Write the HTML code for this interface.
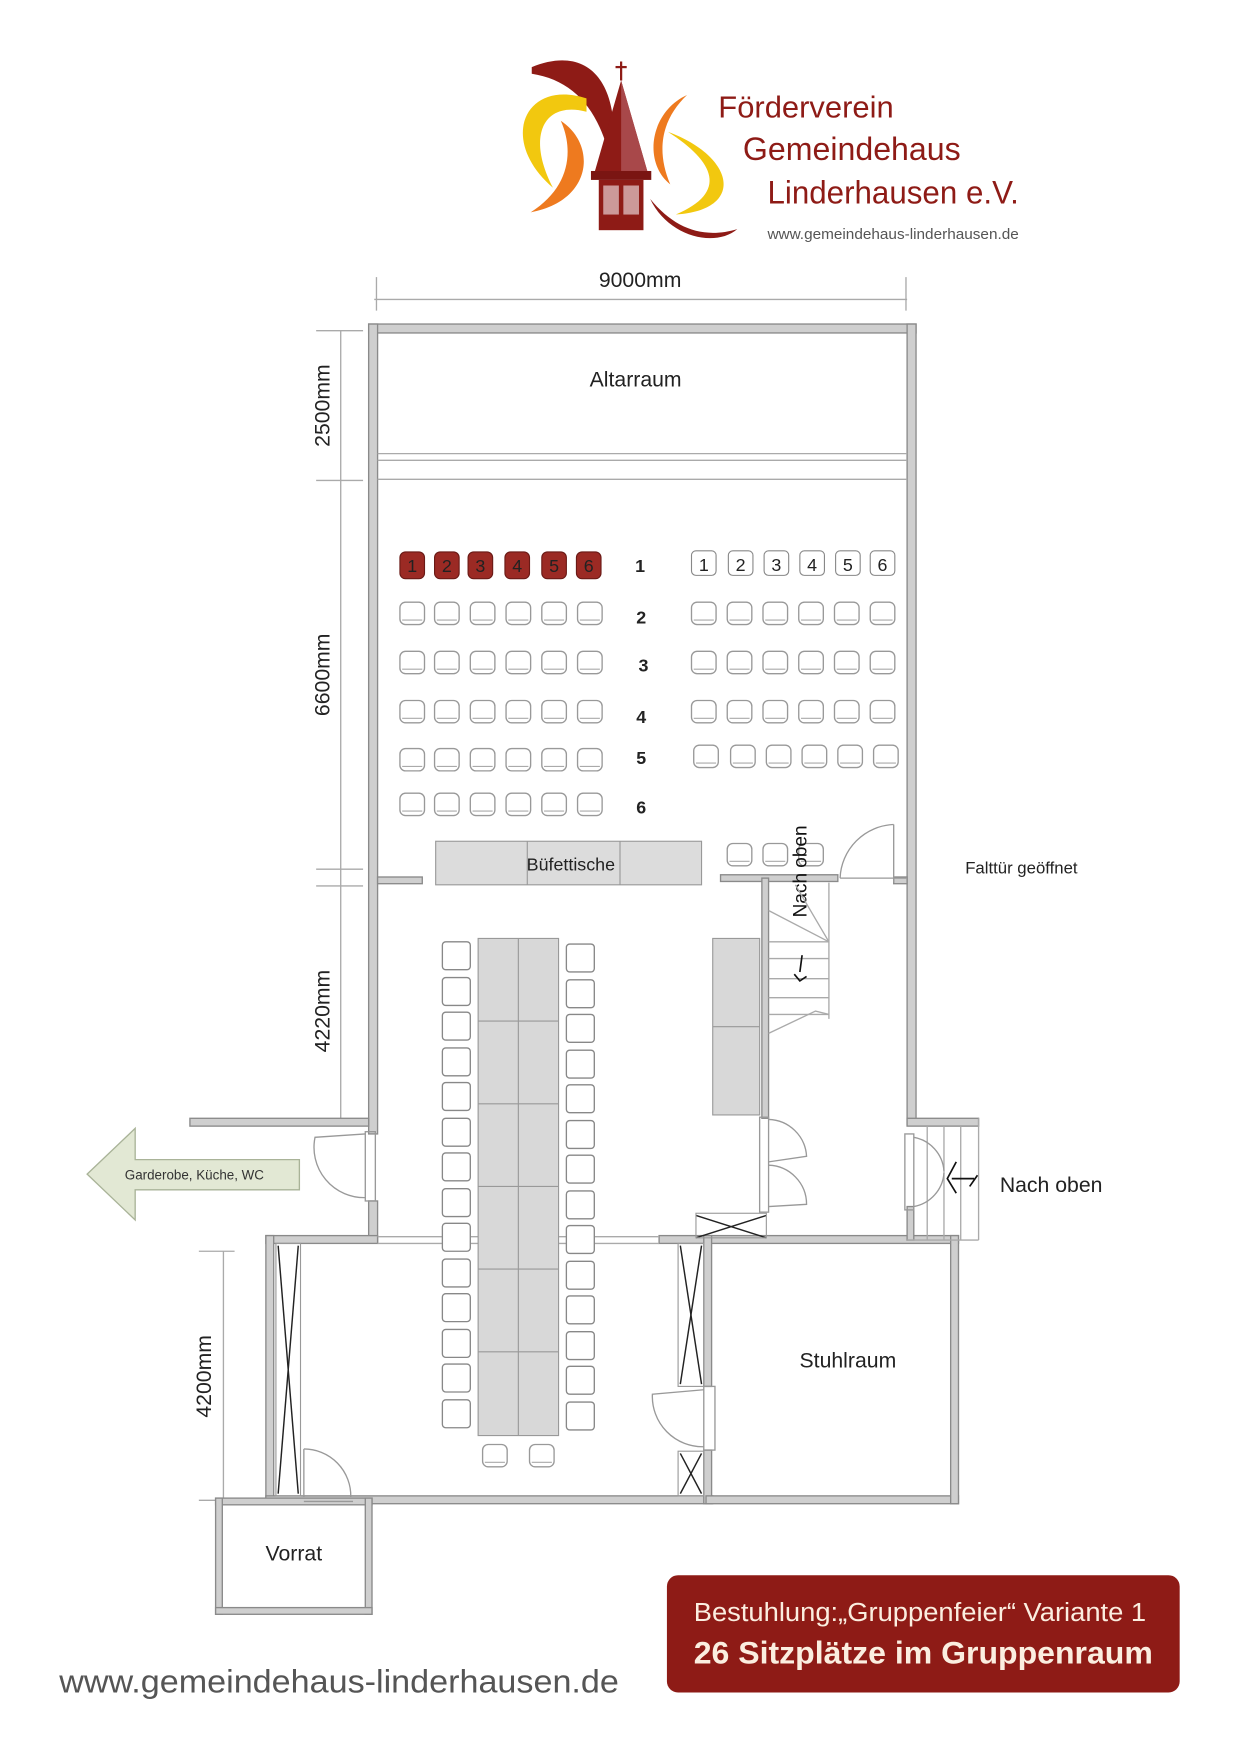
<!DOCTYPE html>
<html><head><meta charset="utf-8"><style>
html,body{margin:0;padding:0;background:#fff;}
svg{display:block;}
text{font-family:"Liberation Sans",sans-serif;}
</style></head><body>
<svg width="1240" height="1754" viewBox="0 0 1110 1570" xmlns="http://www.w3.org/2000/svg">
<defs>
<g id="ch"><rect x="0" y="0" width="22" height="20" rx="5" fill="#fff" stroke="#999" stroke-width="1.2"/><line x1="2" y1="16" x2="20" y2="16" stroke="#aaa" stroke-width="1"/></g>
<g id="lc"><rect x="0" y="0" width="25" height="25" rx="3" fill="#fff" stroke="#888" stroke-width="1.2"/></g>
</defs>

<!-- LOGO -->
<path d="M476 60 C525 40 558 70 548 150 C538 100 515 72 476 66Z" fill="#8e1b16"/>
<path d="M525 88 C470 70 445 125 495 168 C470 120 488 90 525 100Z" fill="#f2c80f"/>
<path d="M502 108 C535 130 530 180 475 190 C510 168 514 135 502 108Z" fill="#ee7a1f"/>
<path d="M615 85 C582 100 575 145 600 165 C586 132 594 105 615 85Z" fill="#ee7a1f"/>
<path d="M598 118 C658 140 668 188 605 192 C652 172 640 145 598 118Z" fill="#f2c80f"/>
<path d="M582 178 C598 212 640 222 660 205 C630 214 604 205 582 178Z" fill="#8e1b16"/>
<line x1="556" y1="55" x2="556" y2="72" stroke="#8e1b16" stroke-width="2"/>
<line x1="551" y1="60" x2="561" y2="60" stroke="#8e1b16" stroke-width="2"/>
<polygon points="556,72 532,155 580,155" fill="#8e1b16"/>
<polygon points="556,72 556,155 580,155" fill="#a8484a"/>
<rect x="529" y="153" width="54" height="8" fill="#7a1512"/>
<rect x="536" y="161" width="40" height="45" fill="#8e1b16"/>
<rect x="540" y="166" width="14" height="26" fill="#c99" />
<rect x="558" y="166" width="14" height="26" fill="#c99" />
<text x="643" y="105" font-size="27" fill="#8e1b16" textLength="157" lengthAdjust="spacingAndGlyphs">Förderverein</text>
<text x="665" y="143" font-size="29" fill="#8e1b16" textLength="195" lengthAdjust="spacingAndGlyphs">Gemeindehaus</text>
<text x="687" y="182" font-size="29" fill="#8e1b16" textLength="225" lengthAdjust="spacingAndGlyphs">Linderhausen e.V.</text>
<text x="687" y="214" font-size="13" fill="#555" textLength="225" lengthAdjust="spacingAndGlyphs">www.gemeindehaus-linderhausen.de</text>

<!-- dimensions -->
<g stroke="#aaa" stroke-width="1.2" fill="none">
<line x1="335" y1="268" x2="812" y2="268"/>
<line x1="337" y1="248" x2="337" y2="278"/><line x1="811" y1="248" x2="811" y2="278"/>
<line x1="305" y1="296" x2="305" y2="1003"/>
<line x1="283" y1="296" x2="325" y2="296"/><line x1="283" y1="430" x2="325" y2="430"/>
<line x1="283" y1="778" x2="325" y2="778"/><line x1="283" y1="793" x2="325" y2="793"/>
<line x1="200" y1="1120" x2="200" y2="1345"/>
<line x1="178" y1="1120" x2="210" y2="1120"/><line x1="178" y1="1343" x2="210" y2="1343"/>
</g>
<text x="573" y="257" font-size="19" text-anchor="middle" fill="#222">9000mm</text>
<text transform="translate(295,363) rotate(-90)" font-size="19" text-anchor="middle" fill="#222">2500mm</text>
<text transform="translate(295,604) rotate(-90)" font-size="19" text-anchor="middle" fill="#222">6600mm</text>
<text transform="translate(295,905) rotate(-90)" font-size="19" text-anchor="middle" fill="#222">4220mm</text>
<text transform="translate(189,1232) rotate(-90)" font-size="19" text-anchor="middle" fill="#222">4200mm</text>

<!-- WALLS -->
<g fill="#cfcfcf" stroke="#8a8a8a" stroke-width="1.2">
<rect x="330" y="290" width="490" height="8"/>
<rect x="330" y="290" width="8" height="725"/>
<rect x="330" y="1075" width="8" height="37"/>
<rect x="812" y="290" width="8" height="717"/>
<rect x="338" y="785" width="40" height="6"/>
<rect x="645" y="783" width="105" height="6"/>
<rect x="800" y="785" width="12" height="6"/>
<rect x="682" y="786" width="6" height="215"/>
<rect x="170" y="1001" width="160" height="7"/>
<rect x="812" y="1001" width="64" height="7"/>
<rect x="238" y="1106" width="100" height="7"/>
<rect x="590" y="1106" width="268" height="7"/>
<rect x="238" y="1106" width="7" height="240"/>
<rect x="238" y="1339" width="400" height="7"/>
<rect x="630" y="1106" width="7" height="135"/>
<rect x="630" y="1298" width="7" height="48"/>
<rect x="632" y="1339" width="226" height="7"/>
<rect x="851" y="1106" width="7" height="240"/>
<rect x="193" y="1341" width="140" height="6"/>
<rect x="193" y="1341" width="6" height="104"/>
<rect x="327" y="1341" width="6" height="104"/>
<rect x="193" y="1439" width="140" height="6"/>
<rect x="812" y="1080" width="6" height="30"/>
</g>
<g stroke="#aaa" stroke-width="1.2" fill="none">
<line x1="338" y1="406" x2="812" y2="406"/><line x1="338" y1="412" x2="812" y2="412"/><line x1="338" y1="429" x2="812" y2="429"/>
<line x1="338" y1="1107" x2="590" y2="1107"/><line x1="338" y1="1113" x2="590" y2="1113"/>
<line x1="876" y1="1001" x2="876" y2="1110"/><line x1="812" y1="1110" x2="876" y2="1110"/>
<line x1="830" y1="1008" x2="830" y2="1110"/><line x1="845" y1="1008" x2="845" y2="1110"/><line x1="860" y1="1008" x2="860" y2="1110"/>
</g>
<text x="569" y="346" font-size="19" text-anchor="middle" fill="#222">Altarraum</text>

<g font-size="16" text-anchor="middle" fill="#222">
<g fill="#9b2a24" stroke="#6a1a16"><rect x="358" y="494" width="22" height="24" rx="5"/><rect x="389" y="494" width="22" height="24" rx="5"/><rect x="419" y="494" width="22" height="24" rx="5"/><rect x="452" y="494" width="22" height="24" rx="5"/><rect x="485" y="494" width="22" height="24" rx="5"/><rect x="516" y="494" width="22" height="24" rx="5"/></g>
<text x="369" y="512">1</text><text x="400" y="512">2</text><text x="430" y="512">3</text><text x="463" y="512">4</text><text x="496" y="512">5</text><text x="527" y="512">6</text>
<g fill="#fff" stroke="#888"><rect x="619" y="493" width="22" height="22" rx="4"/><rect x="652" y="493" width="22" height="22" rx="4"/><rect x="684" y="493" width="22" height="22" rx="4"/><rect x="716" y="493" width="22" height="22" rx="4"/><rect x="748" y="493" width="22" height="22" rx="4"/><rect x="779" y="493" width="22" height="22" rx="4"/></g>
<text x="630" y="511">1</text><text x="663" y="511">2</text><text x="695" y="511">3</text><text x="727" y="511">4</text><text x="759" y="511">5</text><text x="790" y="511">6</text>
<text x="573" y="512" font-weight="bold">1</text><text x="574" y="558" font-weight="bold">2</text><text x="576" y="601" font-weight="bold">3</text><text x="574" y="647" font-weight="bold">4</text><text x="574" y="684" font-weight="bold">5</text><text x="574" y="728" font-weight="bold">6</text>
</g>
<g>
<use href="#ch" x="358" y="539"/><use href="#ch" x="389" y="539"/><use href="#ch" x="421" y="539"/><use href="#ch" x="453" y="539"/><use href="#ch" x="485" y="539"/><use href="#ch" x="517" y="539"/>
<use href="#ch" x="619" y="539"/><use href="#ch" x="651" y="539"/><use href="#ch" x="683" y="539"/><use href="#ch" x="715" y="539"/><use href="#ch" x="747" y="539"/><use href="#ch" x="779" y="539"/>
<use href="#ch" x="358" y="583"/><use href="#ch" x="389" y="583"/><use href="#ch" x="421" y="583"/><use href="#ch" x="453" y="583"/><use href="#ch" x="485" y="583"/><use href="#ch" x="517" y="583"/>
<use href="#ch" x="619" y="583"/><use href="#ch" x="651" y="583"/><use href="#ch" x="683" y="583"/><use href="#ch" x="715" y="583"/><use href="#ch" x="747" y="583"/><use href="#ch" x="779" y="583"/>
<use href="#ch" x="358" y="627"/><use href="#ch" x="389" y="627"/><use href="#ch" x="421" y="627"/><use href="#ch" x="453" y="627"/><use href="#ch" x="485" y="627"/><use href="#ch" x="517" y="627"/>
<use href="#ch" x="619" y="627"/><use href="#ch" x="651" y="627"/><use href="#ch" x="683" y="627"/><use href="#ch" x="715" y="627"/><use href="#ch" x="747" y="627"/><use href="#ch" x="779" y="627"/>
<use href="#ch" x="358" y="670"/><use href="#ch" x="389" y="670"/><use href="#ch" x="421" y="670"/><use href="#ch" x="453" y="670"/><use href="#ch" x="485" y="670"/><use href="#ch" x="517" y="670"/>
<use href="#ch" x="621" y="667"/><use href="#ch" x="654" y="667"/><use href="#ch" x="686" y="667"/><use href="#ch" x="718" y="667"/><use href="#ch" x="750" y="667"/><use href="#ch" x="782" y="667"/>
<use href="#ch" x="358" y="710"/><use href="#ch" x="389" y="710"/><use href="#ch" x="421" y="710"/><use href="#ch" x="453" y="710"/><use href="#ch" x="485" y="710"/><use href="#ch" x="517" y="710"/>
<use href="#ch" x="651" y="755"/><use href="#ch" x="683" y="755"/><use href="#ch" x="715" y="755"/>
</g>
<rect x="390" y="753" width="238" height="39" fill="#dcdcdc" stroke="#999"/>
<line x1="472" y1="753" x2="472" y2="792" stroke="#999"/><line x1="555" y1="753" x2="555" y2="792" stroke="#999"/>
<text x="511" y="779" font-size="16" text-anchor="middle" fill="#222">Büfettische</text>
<text transform="translate(722,780) rotate(-90)" font-size="17" text-anchor="middle" fill="#111">Nach oben</text>
<g stroke="#999" fill="none" stroke-width="1.2">
<line x1="800" y1="738" x2="800" y2="790"/><path d="M800 738 A50 50 0 0 0 752 786"/>
<line x1="752" y1="786" x2="812" y2="786"/>
</g>
<text x="864" y="782" font-size="15" fill="#222">Falttür geöffnet</text>

<g stroke="#aaa" stroke-width="1.2" fill="none">
<line x1="742" y1="790" x2="742" y2="912"/>
<line x1="688" y1="843" x2="742" y2="843"/><line x1="688" y1="858" x2="742" y2="858"/><line x1="688" y1="876" x2="742" y2="876"/><line x1="688" y1="893" x2="742" y2="893"/><line x1="688" y1="908" x2="742" y2="908"/>
<line x1="688" y1="815" x2="742" y2="843"/><line x1="712" y1="792" x2="742" y2="843"/>
<path d="M688 925 L730 905 L742 908"/>
</g>
<path d="M718 855 L716 870 M711 872 L716 878 L722 874" stroke="#111" stroke-width="1.5" fill="none"/>
<rect x="638" y="840" width="42" height="158" fill="#d8d8d8" stroke="#999"/>
<line x1="638" y1="919" x2="680" y2="919" stroke="#999"/>
<g stroke="#999" stroke-width="1.2" fill="none">
<rect x="680" y="1000" width="8" height="85"/>
<path d="M688 1002 A35 35 0 0 1 722 1035 L688 1040"/>
<path d="M688 1043 A35 35 0 0 1 722 1078 L688 1080"/>
</g>
<g stroke="#222" stroke-width="1.3"><line x1="623" y1="1088" x2="686" y2="1108"/><line x1="623" y1="1108" x2="686" y2="1088"/></g>
<rect x="623" y="1086" width="63" height="22" fill="none" stroke="#999"/>
<g stroke="#999" stroke-width="1.2" fill="none">
<rect x="810" y="1015" width="8" height="68"/>
<path d="M818 1018 A33 33 0 0 1 845 1048"/><path d="M818 1080 A33 33 0 0 0 845 1050"/>
</g>
<path d="M856 1040 L848 1055 L856 1068 M852 1055 L872 1055 M868 1062 L875 1052" stroke="#111" stroke-width="1.5" fill="none"/>
<text x="895" y="1067" font-size="19" fill="#222">Nach oben</text>

<g stroke="#999" stroke-width="1.2" fill="none">
<rect x="327" y="1013" width="9" height="62"/>
<path d="M327 1015 L282 1018 A45 45 0 0 0 327 1072"/>
</g>
<polygon points="78,1051 121,1010 121,1038 268,1038 268,1065 121,1065 121,1092" fill="#e2e8d4" stroke="#a9b398" stroke-width="1.2"/>
<text x="174" y="1056" font-size="12" text-anchor="middle" fill="#333">Garderobe, Küche, WC</text>

<rect x="428" y="840" width="72" height="445" fill="#d8d8d8" stroke="#999"/>
<g stroke="#999" stroke-width="1"><line x1="464" y1="840" x2="464" y2="1285"/>
<line x1="428" y1="914" x2="500" y2="914"/><line x1="428" y1="988" x2="500" y2="988"/><line x1="428" y1="1062" x2="500" y2="1062"/><line x1="428" y1="1136" x2="500" y2="1136"/><line x1="428" y1="1210" x2="500" y2="1210"/></g>
<g>
<use href="#lc" x="396" y="843"/><use href="#lc" x="396" y="875"/><use href="#lc" x="396" y="906"/><use href="#lc" x="396" y="938"/><use href="#lc" x="396" y="969"/><use href="#lc" x="396" y="1001"/><use href="#lc" x="396" y="1032"/><use href="#lc" x="396" y="1064"/><use href="#lc" x="396" y="1095"/><use href="#lc" x="396" y="1127"/><use href="#lc" x="396" y="1158"/><use href="#lc" x="396" y="1190"/><use href="#lc" x="396" y="1221"/><use href="#lc" x="396" y="1253"/>
<use href="#lc" x="507" y="845"/><use href="#lc" x="507" y="877"/><use href="#lc" x="507" y="908"/><use href="#lc" x="507" y="940"/><use href="#lc" x="507" y="971"/><use href="#lc" x="507" y="1003"/><use href="#lc" x="507" y="1034"/><use href="#lc" x="507" y="1066"/><use href="#lc" x="507" y="1097"/><use href="#lc" x="507" y="1129"/><use href="#lc" x="507" y="1160"/><use href="#lc" x="507" y="1192"/><use href="#lc" x="507" y="1223"/><use href="#lc" x="507" y="1255"/>
<use href="#ch" x="432" y="1293"/><use href="#ch" x="474" y="1293"/>
</g>

<rect x="247" y="1113" width="22" height="226" fill="none" stroke="#999"/>
<g stroke="#222" stroke-width="1.3"><line x1="249" y1="1115" x2="267" y2="1337"/><line x1="267" y1="1115" x2="249" y2="1337"/></g>
<g stroke="#999" stroke-width="1.2" fill="none">
<line x1="272" y1="1297" x2="272" y2="1340"/><path d="M272 1297 A42 42 0 0 1 314 1340"/>
<line x1="272" y1="1344" x2="316" y2="1344"/>
</g>
<rect x="607" y="1113" width="23" height="128" fill="none" stroke="#999"/>
<g stroke="#222" stroke-width="1.3"><line x1="609" y1="1115" x2="628" y2="1239"/><line x1="628" y1="1115" x2="609" y2="1239"/></g>
<rect x="607" y="1299" width="23" height="40" fill="none" stroke="#999"/>
<g stroke="#222" stroke-width="1.3"><line x1="609" y1="1301" x2="628" y2="1337"/><line x1="628" y1="1301" x2="609" y2="1337"/></g>
<g stroke="#999" stroke-width="1.2" fill="none">
<rect x="630" y="1241" width="10" height="57"/>
<path d="M630 1244 L584 1248 A45 45 0 0 0 630 1295"/>
</g>
<text x="759" y="1224" font-size="19" text-anchor="middle" fill="#222">Stuhlraum</text>
<text x="263" y="1397" font-size="19" text-anchor="middle" fill="#222">Vorrat</text>

<rect x="597" y="1410" width="459" height="105" rx="10" fill="#8e1b16"/>
<text x="621" y="1451" font-size="23" fill="#fbeee0" textLength="405" lengthAdjust="spacingAndGlyphs">Bestuhlung:„Gruppenfeier“ Variante 1</text>
<text x="621" y="1489" font-size="28" font-weight="bold" fill="#fbeee0" textLength="411" lengthAdjust="spacingAndGlyphs">26 Sitzplätze im Gruppenraum</text>
<text x="53" y="1515" font-size="29" fill="#555" textLength="501" lengthAdjust="spacingAndGlyphs">www.gemeindehaus-linderhausen.de</text>
</svg>
</body></html>
